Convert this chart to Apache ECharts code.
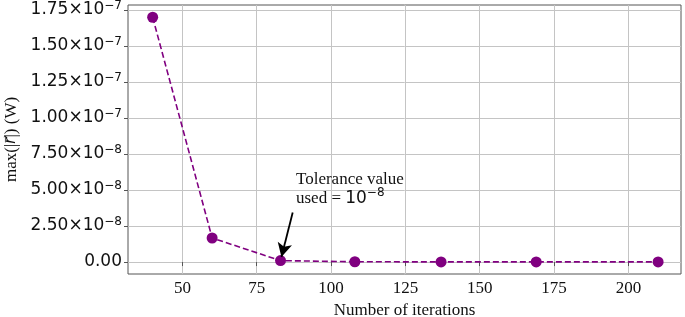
<!DOCTYPE html>
<html>
<head>
<meta charset="utf-8">
<script src="https://cdn.jsdelivr.net/npm/echarts@6/dist/echarts.min.js"></script>
<style>
  html, body { margin: 0; padding: 0; background: #fff; }
  #chart { width: 685px; height: 317px; }
</style>
</head>
<body>
<div id="chart"></div>
<script>
// data
const iterations = [40, 60, 83, 108, 137, 169, 210];
const maxResidual = [1.70e-7, 1.67e-8, 1.0e-9, 2e-10, 1e-10, 1e-10, 1e-10];
const xTicks = [50, 75, 100, 125, 150, 175, 200];
const yTicks = [0, 2.5e-8, 5e-8, 7.5e-8, 1e-7, 1.25e-7, 1.5e-7, 1.75e-7];

const serif = '"Liberation Serif", "DejaVu Serif", serif';
const sans = '"DejaVu Sans", sans-serif';
const purple = '#800080';

// 1.75e-7 -> 1.75×10^-7 with a raised exponent
function sciLabel(v) {
  if (Math.abs(v) < 1e-15) return '{m|0.00}';
  const exp = Math.floor(Math.log10(Math.abs(v)) + 1e-9);
  const mant = (v / Math.pow(10, exp)).toFixed(2);
  return '{m|' + mant + '×10}{e|−' + Math.abs(exp) + '}';
}

const chart = echarts.init(document.getElementById('chart'));

const option = {
  animation: false,
  grid: {
    left: 128, right: 4, top: 5, bottom: 43,
    outerBoundsMode: 'none',
    containLabel: false,
    show: true, borderColor: '#555', borderWidth: 1, backgroundColor: 'transparent'
  },
  xAxis: {
    type: 'value',
    min: 31.7,
    max: 217.7,
    name: 'Number of iterations',
    nameLocation: 'middle',
    nameGap: 23,
    nameTextStyle: { fontFamily: serif, fontSize: 17, color: '#111' },
    axisLine: { show: false },
    axisTick: { show: true, length: 4, lineStyle: { color: '#555' }, customValues: xTicks },
    axisLabel: {
      fontFamily: serif, fontSize: 17, color: '#111', margin: 6,
      customValues: xTicks
    },
    splitLine: { show: true, lineStyle: { color: '#c4c4c4', width: 1 } }
  },
  yAxis: {
    type: 'value',
    min: -0.83e-8,
    max: 1.785e-7,
    name: '{s|max(|}{r|r\u20D7}{s||) (W)}',
    nameLocation: 'middle',
    nameGap: 107,
    nameTextStyle: {
      fontFamily: serif, fontSize: 17, color: '#111',
      rich: {
        s: { fontFamily: serif, fontSize: 17, color: '#111' },
        r: { fontFamily: sans, fontStyle: 'italic', fontSize: 15, color: '#111' }
      }
    },
    axisLine: { show: false },
    axisTick: { show: true, length: 4, lineStyle: { color: '#555' }, customValues: yTicks },
    axisLabel: {
      margin: 6,
      customValues: yTicks,
      formatter: sciLabel,
      rich: {
        m: { fontFamily: sans, fontSize: 17, color: '#111' },
        e: { fontFamily: sans, fontSize: 12, color: '#111', padding: [0, 0, 9, 0] }
      }
    },
    splitLine: { show: true, lineStyle: { color: '#c4c4c4', width: 1 } }
  },
  series: [
    {
      type: 'line',
      data: iterations.map((x, i) => [x, maxResidual[i]]),
      symbol: 'circle',
      symbolSize: 11,
      itemStyle: { color: purple },
      lineStyle: { color: purple, width: 1.6, type: [6, 3] },
      emphasis: { disabled: true },
      markLine: {
        silent: true,
        symbol: ['none', 'arrow'],
        symbolSize: [11, 14],
        label: { show: false },
        lineStyle: { color: '#000', width: 1.8, type: 'solid' },
        data: [[{ coord: [87.1, 3.44e-8] }, { coord: [83.3, 0.35e-8] }]]
      },
      markPoint: {
        silent: true,
        symbol: 'circle',
        symbolSize: 0,
        label: {
          show: true,
          position: 'right',
          distance: 0,
          lineHeight: 19,
          formatter: '{t|Tolerance value}\n{t|used = }{n|10}{e|−8}',
          rich: {
            t: { fontFamily: serif, fontSize: 17, color: '#111', lineHeight: 19 },
            n: { fontFamily: sans, fontSize: 17, color: '#111', lineHeight: 19 },
            e: { fontFamily: sans, fontSize: 12, color: '#111', padding: [0, 0, 10, 0] }
          }
        },
        data: [{ coord: [88.2, 5.1e-8] }]
      }
    }
  ]
};

chart.setOption(option);
</script>
</body>
</html>
